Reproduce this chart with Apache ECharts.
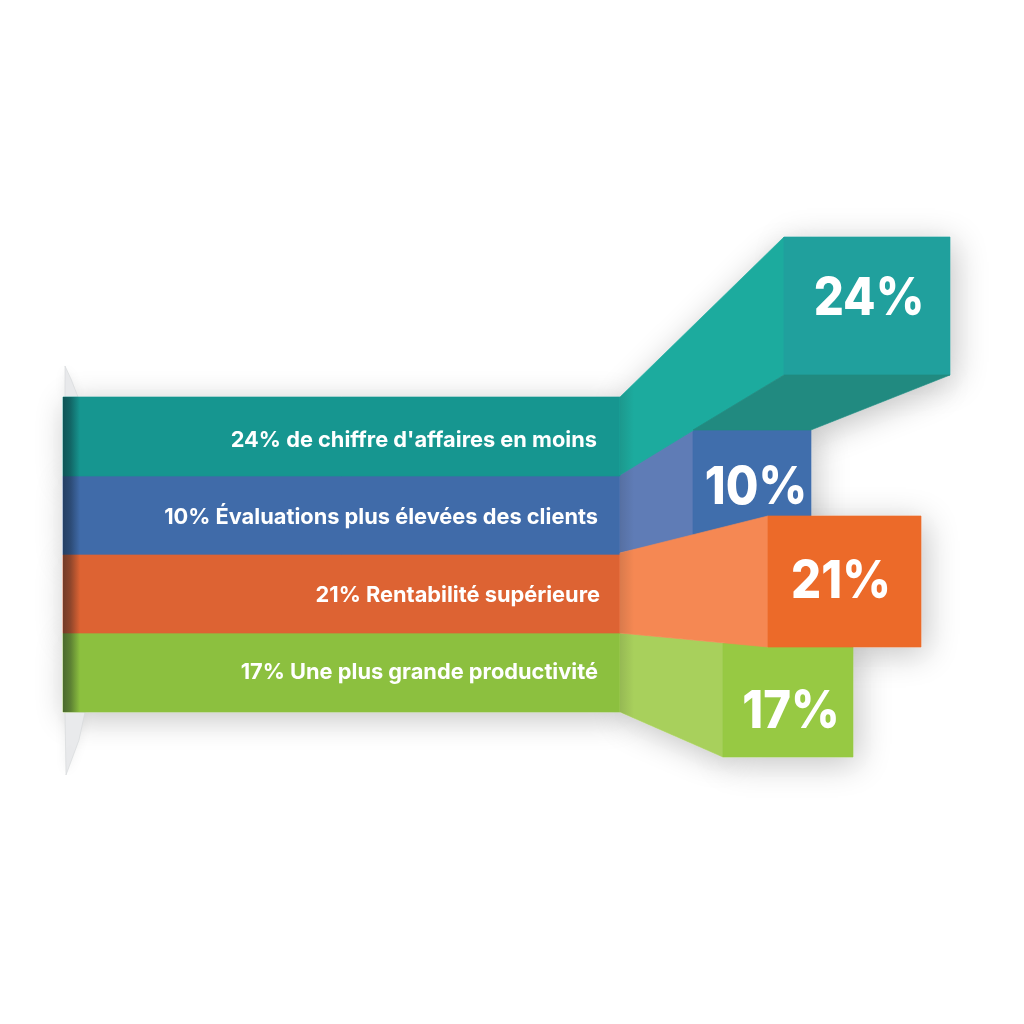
<!DOCTYPE html>
<html><head><meta charset="utf-8">
<style>html,body{margin:0;padding:0;background:#fff}#c{width:1024px;height:1024px}</style>
<script src="https://cdn.jsdelivr.net/npm/echarts@6/dist/echarts.min.js"></script>
</head><body><div id="c"></div>
<script>
// Chart content
const categories = ["de chiffre d'affaires en moins","Évaluations plus élevées des clients","Rentabilité supérieure","Une plus grande productivité"];
const values = [24,10,21,17];
// Shapes, in axis units
const bandEdges = [397,476,555,633,712];
const bandStart = 63, bandEnd = 620;
const blockStart = [784,693,768,723];
const blockEnd = [950,811,921,853];
const blockTop = [237,430,516,643];
const blockBottom = [375,536,647,757];
const flareTop = [397,474,553,633];
const flareBottom = [475,553,633,712];
const drawOrder = [3,1,0,2];
// Colours
const bandColors = ['#169690','#406ba9','#dd6333','#8cc03f'];
const flareColors = ['#1cab9e','#5f7cb6','#f58853','#a8d05c'];
const blockColors = ['#20a09d','#406eac','#ec6a29','#97c943'];
const undersideColor = '#218a80';
const labelRight = [597,598,600,598];
const labelY = [440,517,595,672];
const valueCenter = [869,756,841,791];
const valueY = [299,488,582,712];

const chart = echarts.init(document.getElementById('c'),null,{renderer:'canvas'});
const poly = (api,pts,fill,extra)=>({type:'polygon',shape:{points:pts.map(p=>api.coord(p))},style:Object.assign({fill,stroke:fill,lineWidth:0.7},extra||{})});
function faces(i){
  return [
    [[bandStart,bandEdges[i]],[bandEnd,bandEdges[i]],[bandEnd,bandEdges[i+1]],[bandStart,bandEdges[i+1]]],
    [[bandEnd,flareTop[i]],[blockStart[i],blockTop[i]],[blockStart[i],blockBottom[i]],[bandEnd,flareBottom[i]]],
    [[blockStart[i],blockTop[i]],[blockEnd[i],blockTop[i]],[blockEnd[i],blockBottom[i]],[blockStart[i],blockBottom[i]]]
  ];
}
const underside = [[blockStart[0],blockBottom[0]],[blockEnd[0],blockBottom[0]],[blockEnd[1],blockTop[1]],[blockStart[1],blockTop[1]]];
const flanges = [
  [[65,366],[71,379],[78,397],[65,397]],
  [[65,712],[85,712],[79,740],[66,775]]
];
const shadow = {shadowBlur:32,shadowOffsetX:4,shadowOffsetY:6,shadowColor:'rgba(0,0,0,0.24)'};
const option = {
  animation:false,
  backgroundColor:'#fff',
  grid:{left:0,right:0,top:0,bottom:0},
  xAxis:{type:'value',min:0,max:1024,show:false},
  yAxis:{type:'value',min:0,max:1024,inverse:true,show:false},
  series:[
    { // soft drop shadow under the whole ribbon
      type:'custom',coordinateSystem:'cartesian2d',silent:true,z:1,
      data:[0],
      renderItem(p,api){
        const children=[];
        drawOrder.forEach(i=>faces(i).forEach(f=>children.push(poly(api,f,'#fff',shadow))));
        children.push(poly(api,underside,'#fff',shadow));
        flanges.forEach(f=>children.push(poly(api,f,'#e9eaec',{stroke:'#d4d6d9',lineWidth:0.6,shadowBlur:12,shadowColor:'rgba(0,0,0,0.07)'})));
        return {type:'group',children};
      }
    },
    { // ribbon faces
      type:'custom',coordinateSystem:'cartesian2d',silent:true,z:2,
      data:drawOrder,
      renderItem(p,api){
        const i=drawOrder[p.dataIndex];
        const f=faces(i);
        const foldStop=14/(blockStart[i]-bandEnd);
        const children=[
          poly(api,f[0],bandColors[i]),
          poly(api,f[1],flareColors[i]),
          {type:'polygon',shape:{points:f[1].map(q=>api.coord(q))},
           style:{fill:new echarts.graphic.LinearGradient(0,0,1,0,[{offset:0,color:'rgba(30,30,30,0.13)'},{offset:foldStop,color:'rgba(30,30,30,0)'},{offset:1,color:'rgba(30,30,30,0)'}])}},
          poly(api,f[2],blockColors[i])
        ];
        if(i===0) children.push(poly(api,underside,undersideColor));
        return {type:'group',children};
      }
    },
    { // fold shading and text
      type:'custom',coordinateSystem:'cartesian2d',silent:true,z:3,
      data:values,
      renderItem(p,api){
        const i=p.dataIndex;
        const v=values[i];
        const a=api.coord([bandStart,bandEdges[i]]), b=api.coord([bandStart,bandEdges[i+1]]);
        const children=[
          {type:'rect',shape:{x:a[0],y:a[1],width:17,height:b[1]-a[1]},
           style:{fill:new echarts.graphic.LinearGradient(0,0,1,0,[{offset:0,color:'rgba(10,20,30,0.50)'},{offset:0.45,color:'rgba(10,20,30,0.36)'},{offset:1,color:'rgba(10,20,30,0)'}])}}
        ];
        const lp=api.coord([labelRight[i],labelY[i]]);
        children.push({type:'text',x:lp[0],y:lp[1],style:{text:v+'% '+categories[i],fill:'#fff',font:'700 21.8px Inter, "Open Sans", sans-serif',align:'right',verticalAlign:'middle'}});
        const vp=api.coord([valueCenter[i],valueY[i]]);
        children.push({type:'text',x:vp[0],y:vp[1],scaleX:0.91,style:{text:v+'%',fill:'#fff',font:'800 52px Inter, "Open Sans", sans-serif',align:'center',verticalAlign:'middle'}});
        return {type:'group',children};
      }
    }
  ]
};
chart.setOption(option);
</script></body></html>
